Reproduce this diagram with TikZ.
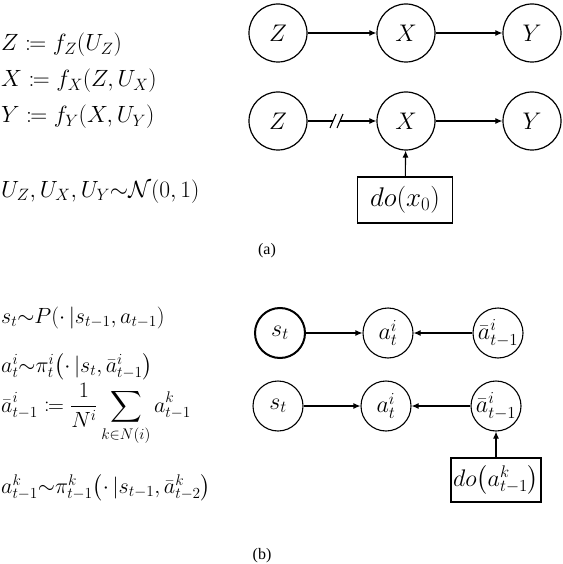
\RequirePackage{fix-cm}
\documentclass[tikz,border=0pt]{standalone}
\usepackage{mathtools}
\usepackage{amssymb}
\usepackage{fontspec}
\newfontfamily\capfont{Liberation Serif}
\usetikzlibrary{arrows.meta,calc}
\begin{document}
\begin{tikzpicture}[x=1pt,y=-1pt,
  anode/.style={draw, circle, minimum size=58pt, inner sep=0pt, line width=1.2pt, font=\fontsize{24}{28}\selectfont},
  bnode/.style={draw, circle, minimum size=50pt, inner sep=0pt, line width=1.1pt, font=\fontsize{24}{28}\selectfont},
  dobox/.style={draw, rectangle, inner sep=0pt, line width=1.2pt},
  arr/.style={-{Latex[length=7pt,width=6pt]}, line width=1.1pt},
  plain/.style={line width=1.1pt},
  eqa/.style={anchor=base west, inner sep=0pt, font=\fontsize{23.5}{27}\selectfont},
  eqb/.style={anchor=base west, inner sep=0pt, font=\fontsize{22}{26}\selectfont},
  captxt/.style={inner sep=0pt, font=\capfont\fontsize{16}{18}\selectfont}]
\useasboundingbox (0,0) rectangle (562,564);

% ---------- panel (a) equations
\node[eqa] (ea1) at (1,51) {$Z \coloneqq f_Z(U_Z)$};
\node[eqa] (ea2) at (1,87) {$X \coloneqq f_X(Z,U_X)$};
\node[eqa] (ea3) at (1,123) {$Y \coloneqq f_Y(X,U_Y)$};
\node[eqa] (ea4) at (1,197) {$U_Z,U_X,U_Y{\sim}\mathcal{N}(0,1)$};

% ---------- panel (a) graphs
\node[anode] (Z1) at (278,33) {$Z$};
\node[anode] (X1) at (406,33) {$X$};
\node[anode] (Y1) at (532,33) {$Y$};
\draw[arr] (Z1) -- (X1);
\draw[arr] (X1) -- (Y1);

\node[anode] (Z2) at (278,121) {$Z$};
\node[anode] (X2) at (406,121) {$X$};
\node[anode] (Y2) at (532,121) {$Y$};
\node[dobox, minimum width=95pt, minimum height=46pt, font=\fontsize{27}{30}\selectfont] (do1) at (405,200) {$do(x_0)$};
\coordinate (brkA) at (333,121);
\coordinate (brkB) at (340,121);
\draw[plain] (Z2) -- (brkA);
\draw[arr] (brkB) -- (X2);
\draw[plain] ($(brkA)+(-3,7)$) -- ($(brkA)+(3,-7)$);
\draw[plain] ($(brkB)+(-3,7)$) -- ($(brkB)+(3,-7)$);
\draw[arr] (do1) -- (X2);
\draw[arr] (X2) -- (Y2);

\node[captxt] (capa) at (267,251) {(a)};

% ---------- panel (b) equations
\node[eqb] (eb1) at (1,323) {$s_t{\sim}P(\cdot\,|s_{t-1},a_{t-1})$};
\node[eqb] (eb2) at (1,372) {$a_t^i{\sim}\pi_t^i\bigl(\cdot\,|s_t,\bar{a}_{t-1}^i\bigr)$};
\node[eqb] (eb3) at (1,412) {$\displaystyle \bar{a}_{t-1}^i \coloneqq \frac{1}{N^i}\sum_{k\in N(i)} a_{t-1}^k$};
\node[eqb] (eb4) at (1,493) {$a_{t-1}^k{\sim}\pi_{t-1}^k\bigl(\cdot\,|s_{t-1},\bar{a}_{t-2}^k\bigr)$};

% ---------- panel (b) graphs
\node[bnode, line width=2pt] (s1) at (280,333) {$s_t$};
\node[bnode] (a1) at (388,333) {$a_t^i$};
\node[bnode] (b1) at (498,333) {$\bar{a}_{t-1}^i$};
\draw[arr] (s1) -- (a1);
\draw[arr] (b1) -- (a1);

\node[bnode] (s2) at (278,406) {$s_t$};
\node[bnode] (a2) at (386,406) {$a_t^i$};
\node[bnode] (b2) at (496,406) {$\bar{a}_{t-1}^i$};
\node[dobox, minimum width=90pt, minimum height=44pt, font=\fontsize{24}{27}\selectfont] (do2) at (496,480) {$do\bigl(a_{t-1}^k\bigr)$};
\draw[arr] (s2) -- (a2);
\draw[arr] (b2) -- (a2);
\draw[arr] (do2) -- (b2);

\node[captxt] (capb) at (262,556) {(b)};
\end{tikzpicture}
\end{document}
